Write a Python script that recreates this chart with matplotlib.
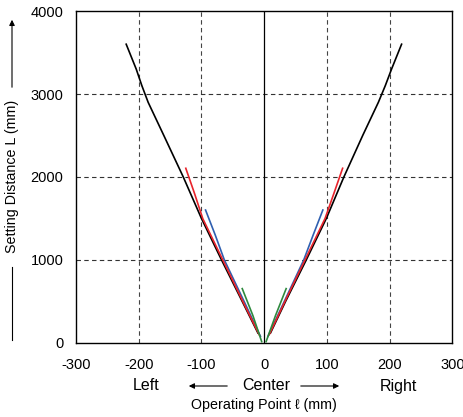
import matplotlib
matplotlib.use("Agg")
import matplotlib.pyplot as plt
from matplotlib.patches import FancyArrowPatch
from matplotlib.lines import Line2D

plt.rcParams['font.family'] = ['Liberation Sans', 'DejaVu Sans']
plt.rcParams['axes.unicode_minus'] = False

# Setting distance L (mm) against operating point (mm)
black_L = [120, 500, 1000, 1500, 2000, 2500, 2900, 3100, 3300, 3600]
black_left = [-10, -35, -68, -100, -129, -160, -185, -195, -204, -220]
black_right = [10, 34, 67, 99, 127, 157, 182, 193, 203, 219]

red_L = [100, 500, 1000, 1500, 1800, 2105]
red_left = [-8, -34, -66, -98, -111, -125]
red_right = [8, 33, 65, 97, 111, 125]

blue_L = [80, 500, 1000, 1300, 1602]
blue_left = [-6, -32, -63.5, -78, -93.5]
blue_right = [6, 32, 63, 78, 93.5]

green_L = [16, 330, 655]
green_left = [-4, -18, -35]
green_right = [3, 18, 35]

xticks = [-300, -200, -100, 0, 100, 200, 300]
yticks = [0, 1000, 2000, 3000, 4000]

fig = plt.figure(figsize=(4.64, 4.17), dpi=100)
ax = fig.add_axes([0.1638, 0.1775, 0.8112, 0.7961])

# dashed grid, solid centre line
for x in [-200, -100, 100, 200]:
    ax.axvline(x, color='#444444', lw=0.8, ls=(0, (4, 3)), zorder=1)
for y in [1000, 2000, 3000]:
    ax.axhline(y, color='#333333', lw=0.8, ls=(0, (4, 3)), zorder=1)
ax.axvline(0, color='black', lw=0.9, zorder=1)

lw = 1.2
ax.plot(blue_left, blue_L, color='#2f5fb0', lw=lw, zorder=2)
ax.plot(blue_right, blue_L, color='#2f5fb0', lw=lw, zorder=2)
ax.plot(black_left, black_L, color='black', lw=lw, zorder=3)
ax.plot(black_right, black_L, color='black', lw=lw, zorder=3)
ax.plot(red_left, red_L, color='#e8242c', lw=lw, zorder=4)
ax.plot(red_right, red_L, color='#e8242c', lw=lw, zorder=4)
ax.plot(green_left, green_L, color='#2e8a3e', lw=lw, zorder=5)
ax.plot(green_right, green_L, color='#2e8a3e', lw=lw, zorder=5)

ax.set_xlim(-300, 300)
ax.set_ylim(0, 4000)
ax.set_xticks(xticks)
ax.set_yticks(yticks)
ax.tick_params(length=0, labelsize=10.5)
ax.tick_params(axis='x', pad=11)
ax.tick_params(axis='y', pad=9)
for s in ax.spines.values():
    s.set_color('black')
    s.set_linewidth(1.0)

# bottom labels
fs = 11.5
yb = 1 - 386 / 417
fig.text(146 / 464, yb, 'Left', ha='center', va='center', fontsize=fs)
fig.text(266 / 464, yb, 'Center', ha='center', va='center', fontsize=fs)
fig.text(398 / 464, yb, 'Right', ha='center', va='center', fontsize=fs)
fig.text(264 / 464, 1 - 405 / 417, 'Operating Point \u2113 (mm)', ha='center', va='center', fontsize=10.3)
arrow = dict(arrowstyle='-|>', color='black', lw=0.8, mutation_scale=8)
fig.add_artist(FancyArrowPatch((230 / 464, yb), (186 / 464, yb), transform=fig.transFigure, **arrow))
fig.add_artist(FancyArrowPatch((298 / 464, yb), (342 / 464, yb), transform=fig.transFigure, **arrow))

# left label with arrow
fig.text(12 / 464, 1 - 176 / 417, 'Setting Distance L (mm)', ha='center', va='center',
         rotation=90, fontsize=10.3)
fig.add_artist(FancyArrowPatch((12 / 464, 1 - 90 / 417), (12 / 464, 1 - 17 / 417),
                               transform=fig.transFigure, **arrow))
fig.add_artist(Line2D([12 / 464, 12 / 464], [1 - 267 / 417, 1 - 340 / 417],
                      transform=fig.transFigure, color='black', lw=0.8))

fig.savefig('out.png', dpi=100)
